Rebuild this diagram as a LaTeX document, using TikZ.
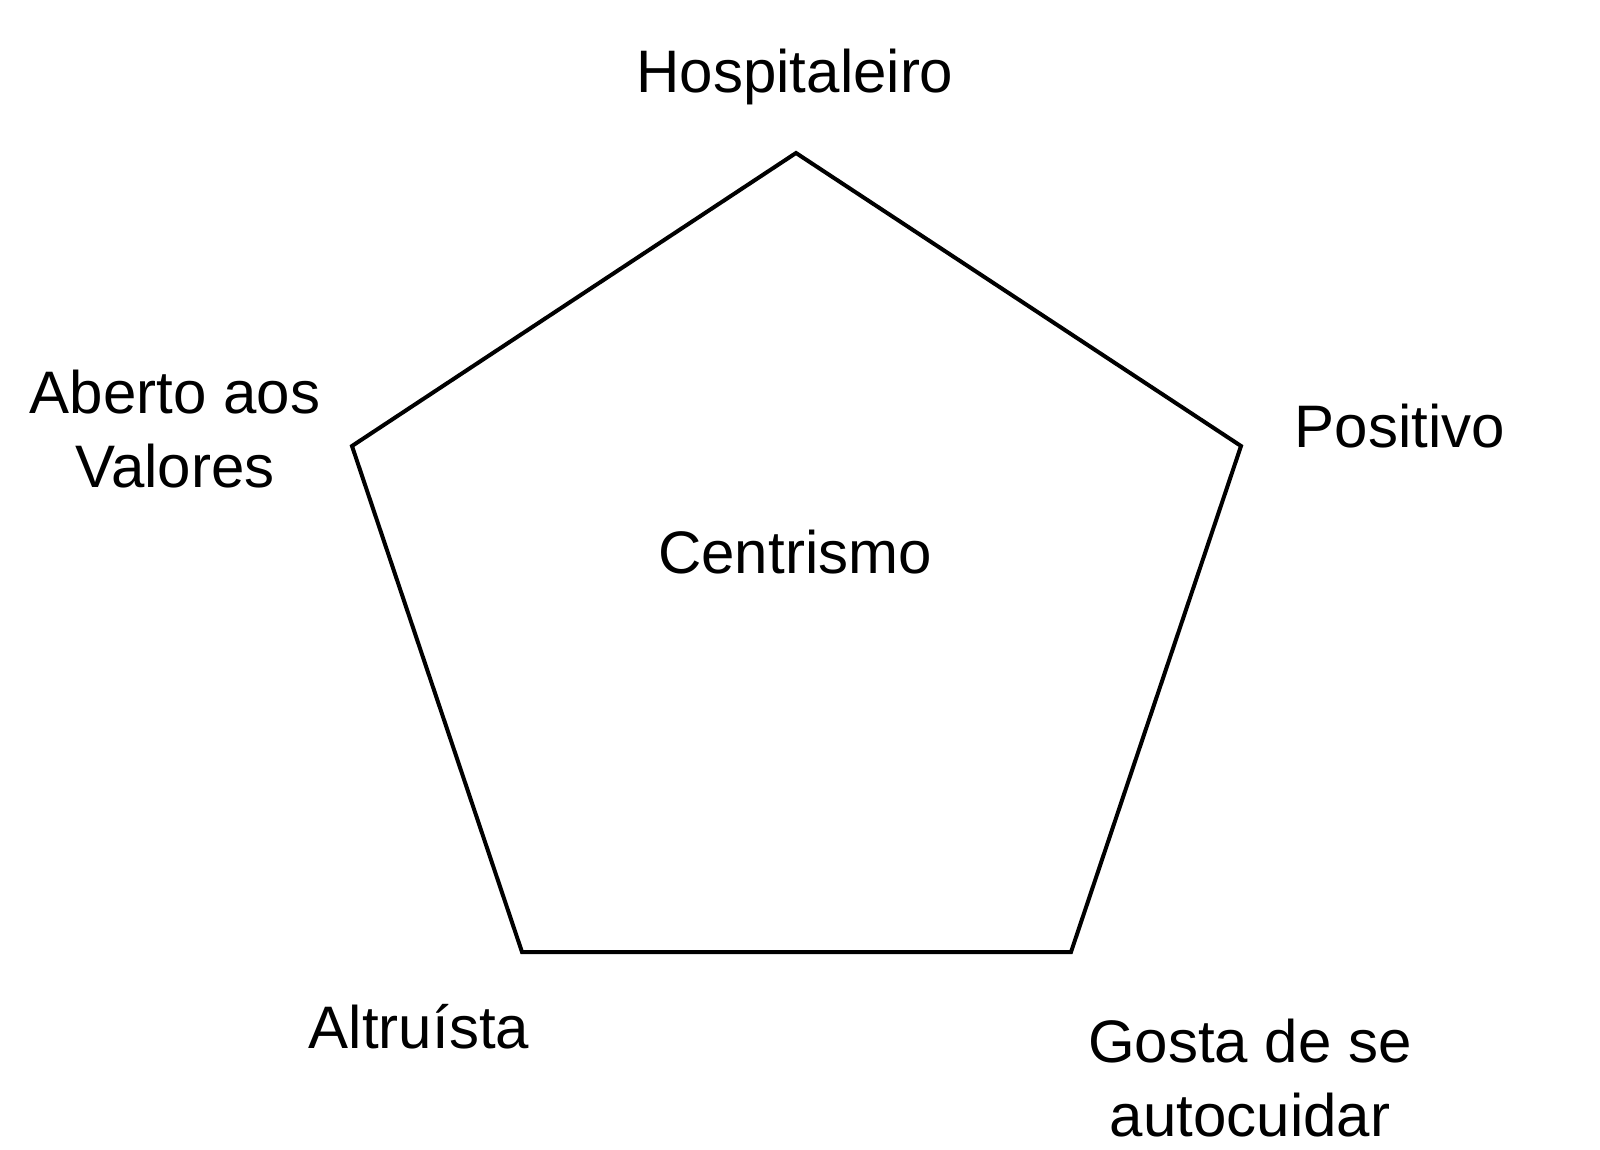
\documentclass[tikz,border=0pt]{standalone}
\usepackage{fontspec}
\setmainfont{Liberation Sans}
\begin{document}
\begin{tikzpicture}[x=0.5pt,y=-0.5pt,
  lbl/.style={font=\fontsize{30pt}{37.3pt}\selectfont, align=center, inner sep=0pt},
  edge/.style={draw=black, line width=2pt, line join=miter}]
\useasboundingbox[fill=white] (0,0) rectangle (1600,1150);
\coordinate (T) at (796,153);
\coordinate (R) at (1241,446);
\coordinate (BR) at (1071,952);
\coordinate (BL) at (522,952);
\coordinate (L) at (352,446);
\draw[edge] (T) -- (R) -- (BR) -- (BL) -- (L) -- cycle;
\node[lbl] (hosp) at (795,77) {Hospitaleiro};
\node[lbl] (aberto) at (175,429) {Aberto aos\\Valores};
\node[lbl] (pos) at (1400,426) {Positivo};
\node[lbl] (cent) at (795,552) {Centrismo};
\node[lbl] (alt) at (419,1027) {Altruísta};
\node[lbl] (gosta) at (1250,1078) {Gosta de se\\autocuidar};
\end{tikzpicture}
\end{document}
